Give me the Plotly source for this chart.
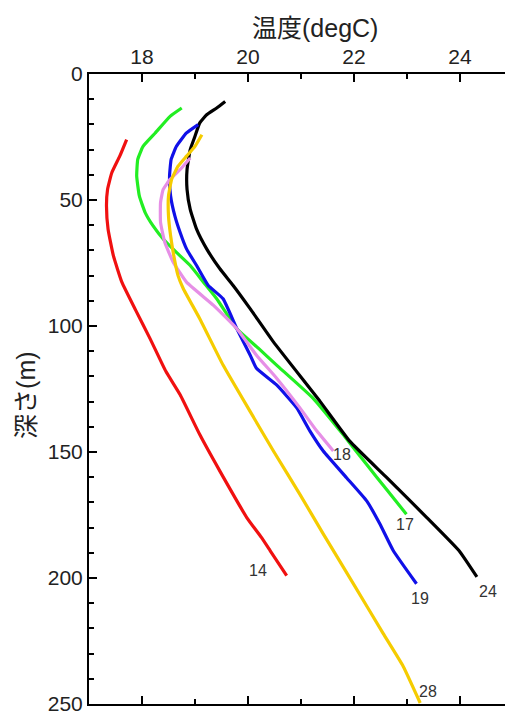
import plotly.graph_objects as go

# ---- data (temperature degC, depth m) ----
t14 = [17.71, 17.58, 17.43, 17.35, 17.33, 17.36, 17.46, 17.62, 17.88, 18.15, 18.45, 18.72, 19.09, 19.47, 19.98, 20.25, 20.42, 20.73]
d14 = [26.0, 32.6, 39.2, 45.8, 52.4, 61.6, 72.1, 82.6, 93.7, 104.9, 118.0, 127.3, 143.1, 157.6, 176.1, 183.8, 189.2, 199.1]

t17 = [18.75, 18.53, 18.25, 18.02, 17.92, 17.90, 17.95, 18.06, 18.21, 18.40, 18.65, 18.91, 19.16, 19.41, 19.79, 20.20, 20.54, 21.23, 21.80, 22.24, 22.62, 22.99]
d17 = [13.5, 16.8, 23.4, 28.7, 33.9, 40.5, 48.4, 55.0, 60.3, 65.5, 70.8, 76.0, 82.6, 89.2, 101.1, 108.9, 115.5, 128.7, 143.2, 155.0, 165.0, 174.7]

t24 = [19.57, 19.41, 19.22, 19.09, 19.00, 18.91, 18.85, 18.85, 18.91, 19.03, 19.22, 19.47, 19.72, 20.04, 20.48, 21.36, 21.92, 22.62, 23.37, 23.98, 24.32]
d24 = [10.9, 13.5, 16.2, 19.4, 24.7, 30.0, 37.9, 45.8, 53.7, 61.6, 69.4, 77.3, 83.9, 93.1, 106.3, 129.9, 145.7, 160.2, 175.9, 189.1, 199.6]

t19 = [19.06, 18.84, 18.65, 18.55, 18.52, 18.54, 18.62, 18.72, 18.84, 19.03, 19.25, 19.53, 19.79, 20.04, 20.16, 20.54, 20.92, 21.17, 21.42, 21.86, 22.24, 22.49, 22.74, 23.18]
d19 = [20.1, 23.4, 28.7, 33.9, 40.5, 48.4, 56.3, 62.9, 69.4, 76.0, 83.9, 89.2, 101.1, 111.5, 116.8, 123.4, 132.5, 141.7, 149.6, 160.2, 169.4, 178.6, 189.1, 202.3]

t18 = [18.91, 18.72, 18.53, 18.40, 18.35, 18.35, 18.43, 18.59, 18.84, 19.35, 19.79, 20.16, 20.54, 20.98, 21.30, 21.61]
d18 = [33.3, 37.9, 41.8, 45.8, 51.0, 58.9, 66.8, 74.7, 82.6, 91.8, 101.1, 111.6, 120.7, 132.5, 141.7, 149.6]

t28 = [19.13, 19.00, 18.84, 18.68, 18.56, 18.50, 18.50, 18.54, 18.60, 18.68, 18.78, 19.09, 19.53, 20.04, 20.48, 20.98, 21.42, 21.99, 22.55, 22.93, 23.25]
d28 = [24.1, 28.7, 32.6, 36.6, 41.8, 48.4, 56.3, 64.2, 72.1, 80.0, 85.2, 97.1, 115.5, 133.9, 149.6, 166.8, 182.5, 202.3, 222.0, 235.1, 249.6]

label_text = ["14", "18", "17", "19", "24", "28"]
label_t = [20.19, 21.77, 22.96, 23.25, 24.52, 23.40]
label_d = [197.2, 151.1, 178.7, 208.2, 205.5, 245.0]

x_title = "温度(degC)"
y_title = "深さ(m)"

series = [
    (t14, d14, "#f01010"),
    (t17, d17, "#22ee22"),
    (t24, d24, "#000000"),
    (t19, d19, "#1010e8"),
    (t18, d18, "#e68fe6"),
    (t28, d28, "#f5cc00"),
]

fig = go.Figure()
for t, d, c in series:
    fig.add_trace(go.Scatter(x=t, y=d, mode="lines",
                             line=dict(color=c, width=3.2, shape="spline", smoothing=0.4),
                             showlegend=False, hoverinfo="skip"))

for txt, t, d in zip(label_text, label_t, label_d):
    fig.add_annotation(x=t, y=d, text=txt, showarrow=False,
                       font=dict(size=16, color="#333333", family="Arial"))

font_family = "Arial, Liberation Sans, Noto Sans CJK JP"

# axis titles as annotations (positioned like the reference)
fig.add_annotation(xref="paper", yref="paper", x=0.5, y=1, xshift=18, yshift=46,
                   xanchor="center", yanchor="middle", showarrow=False,
                   text=x_title, font=dict(size=25, color="#222222", family=font_family))
fig.add_annotation(xref="paper", yref="paper", x=0, y=0.489, xshift=-63,
                   xanchor="center", yanchor="middle", showarrow=False, textangle=-90,
                   text=y_title, font=dict(size=25, color="#222222", family=font_family))

fig.update_layout(
    width=505, height=715,
    margin=dict(l=89, r=0, t=74, b=7),
    paper_bgcolor="white", plot_bgcolor="white",
    font=dict(family=font_family, size=21, color="#222222"),
    xaxis=dict(
        side="top", range=[17, 24.85], dtick=2, tick0=18,
        showline=True, linecolor="black", linewidth=2, mirror="ticks",
        ticks="inside", ticklen=8, tickwidth=2, tickcolor="black",
        minor=dict(dtick=1, tick0=17, ticks="inside", ticklen=5, tickwidth=1.5, tickcolor="black"),
        showgrid=False, zeroline=False,
        tickfont=dict(size=21), ticklabeloverflow="allow",
    ),
    yaxis=dict(
        range=[250, 0], dtick=50, tick0=0,
        showline=True, linecolor="black", linewidth=2,
        ticks="inside", ticklen=8, tickwidth=2, tickcolor="black",
        minor=dict(dtick=10, tick0=0, ticks="inside", ticklen=5, tickwidth=1.5, tickcolor="black"),
        showgrid=False, zeroline=False,
        tickfont=dict(size=21), ticklabeloverflow="allow",
    ),
)

fig.write_html("out.html")
